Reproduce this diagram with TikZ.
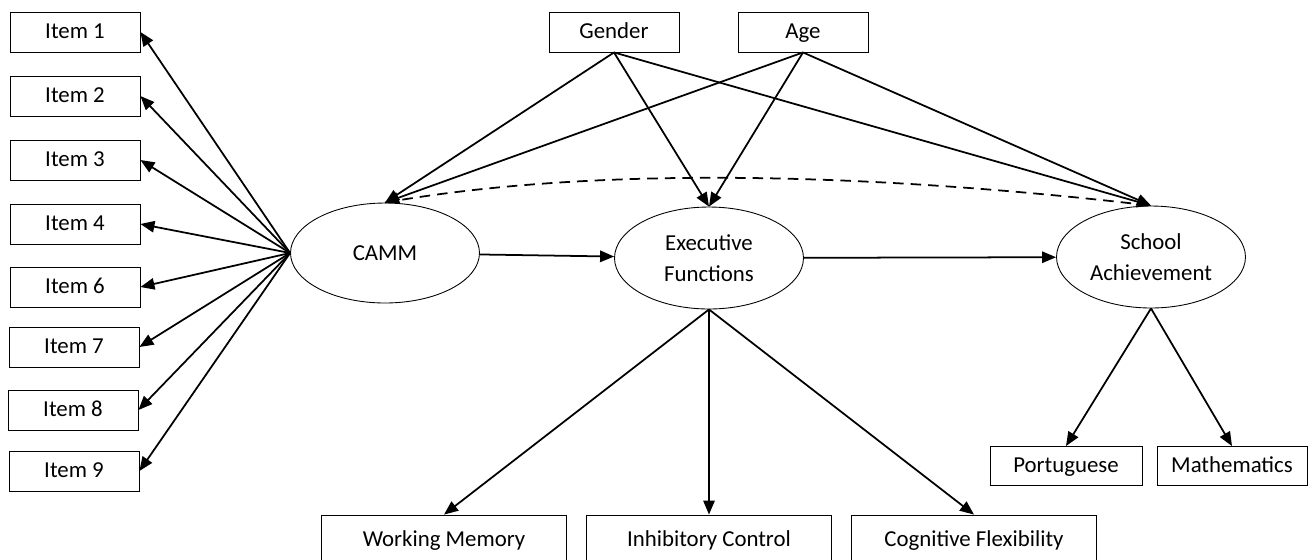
\documentclass[tikz,border=0pt]{standalone}
\usepackage{fontspec}
\setmainfont{Carlito}
\usetikzlibrary{arrows.meta,shapes.geometric}
\begin{document}
\begin{tikzpicture}[x=0.02cm,y=-0.02cm,
    box/.style={draw,line width=0.5pt,minimum width=2.6cm,minimum height=0.8cm,inner sep=0pt,text height=0.76em,text depth=0pt,font=\fontsize{13}{15}\selectfont},
    widebox/.style={box,minimum width=4.9cm,minimum height=1cm},
    latent/.style={draw,ellipse,line width=0.5pt,minimum width=3.78cm,minimum height=2.04cm,inner sep=0pt,align=center,font=\fontsize{13}{17.5}\selectfont},
    effect/.style={-{Triangle[length=8pt,width=6.5pt]},line width=1pt}]
    \useasboundingbox (0,0) rectangle (1309,559);
    \node[box] (item1) at (75,32) {Item 1};
    \node[box] (item2) at (75,96) {Item 2};
    \node[box] (item3) at (75,160) {Item 3};
    \node[box] (item4) at (75,224) {Item 4};
    \node[box] (item6) at (75,287) {Item 6};
    \node[box] (item7) at (74,347) {Item 7};
    \node[box] (item8) at (73,410) {Item 8};
    \node[box] (item9) at (74,471) {Item 9};
    \node[box] (gender) at (614,32) {Gender};
    \node[box] (age) at (803,32) {Age};
    \node[latent,minimum height=2cm] (camm) at (385,253) {CAMM};
    \node[latent] (ef) at (709,258) {Executive\\Functions};
    \node[latent] (sa) at (1151,257) {School\\Achievement};
    \node[widebox] (wm) at (444,540) {Working Memory};
    \node[widebox] (ic) at (709,540) {Inhibitory Control};
    \node[widebox] (cf) at (974,540) {Cognitive Flexibility};
    \node[box,minimum width=3.04cm,minimum height=0.78cm] (port) at (1066,466) {Portuguese};
    \node[box,minimum width=3.0cm,minimum height=0.78cm] (math) at (1232,466) {Mathematics};
    \draw[effect] (camm.west) -- (item1.east);
    \draw[effect] (camm.west) -- (item2.east);
    \draw[effect] (camm.west) -- (item3.east);
    \draw[effect] (camm.west) -- (item4.east);
    \draw[effect] (camm.west) -- (item6.east);
    \draw[effect] (camm.west) -- (item7.east);
    \draw[effect] (camm.west) -- (item8.east);
    \draw[effect] (camm.west) -- (item9.east);
    \draw[effect] (gender.south) -- (camm.north);
    \draw[effect] (gender.south) -- (ef.north);
    \draw[effect] (gender.south) -- (sa.north);
    \draw[effect] (age.south) -- (camm.north);
    \draw[effect] (age.south) -- (ef.north);
    \draw[effect] (age.south) -- (sa.north);
    \draw[line width=1pt,dash pattern=on 6pt off 4pt] (camm.north) .. controls +(200,-35) and +(-300,-35) .. (sa.north);
    \draw[effect] (camm) -- (ef);
    \draw[effect] (ef) -- (sa);
    \draw[effect] (ef.south) -- (wm.north);
    \draw[effect] (ef.south) -- (ic.north);
    \draw[effect] (ef.south) -- (cf.north);
    \draw[effect] (sa.south) -- (port.north);
    \draw[effect] (sa.south) -- (math.north);
\end{tikzpicture}
\end{document}
